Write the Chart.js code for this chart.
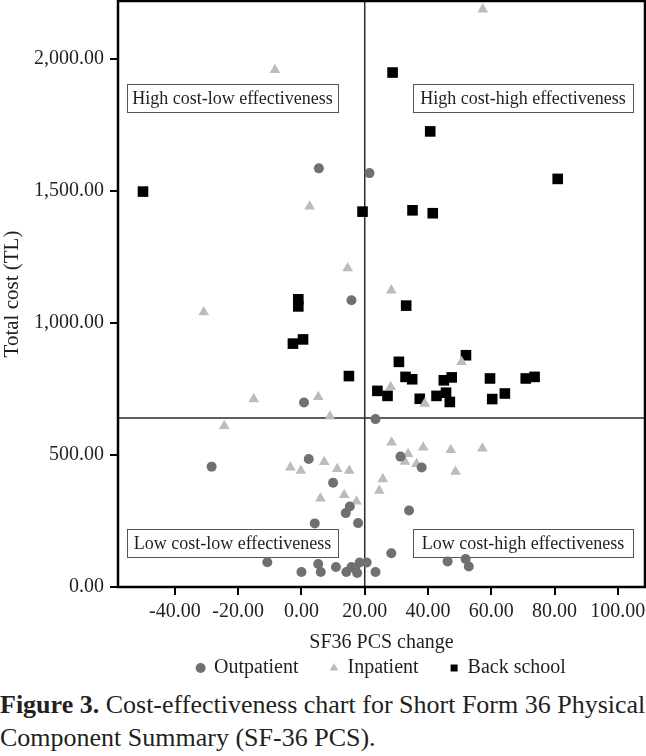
<!DOCTYPE html>
<html>
<head>
<meta charset="utf-8">
<script src="https://cdn.jsdelivr.net/npm/chart.js@4.4.0/dist/chart.umd.min.js"></script>
<style>
  html, body { margin: 0; padding: 0; background: #fff; }
  #wrap { width: 646px; }
  #ceChart { display: block; }
  .caption { font-family: "Liberation Serif", "DejaVu Serif", serif; font-size: 26px; line-height: 33px; color: #231f20; margin: 0; white-space: nowrap; }
</style>
</head>
<body>
<div id="wrap">
  <canvas id="ceChart" width="646" height="688"></canvas>
  <p class="caption"><b>Figure 3.</b> Cost-effectiveness chart for Short Form 36 Physical<br>Component Summary (SF-36 PCS).</p>
</div>
<script>
const SERIES_NAMES = ['Outpatient', 'Inpatient', 'Back school'];

const outpatientX = [5.5, 21.5, 15.8, 0.8, 23.4, -28.4, 2.3, 31.3, 38.0, 10.0, 15.3, 14.0, 4.2, 17.9, 34.0, 28.4, 46.2, 51.9, 52.9, -10.8, 0.0, 5.3, 6.1, 10.9, 14.2, 15.8, 17.6, 18.4, 20.6, 23.4, 17.0];
const outpatientY = [1586, 1568, 1086, 699, 636, 456, 485, 494, 453, 395, 305, 280, 241, 242, 290, 128, 97, 106, 78, 94, 57, 87, 57, 76, 57, 76, 53, 93, 93, 57, 72];

const inpatientX = [57.3, -8.4, 2.6, -30.9, 14.6, 28.4, 50.6, 28.2, 39.0, -15.1, 5.3, 9.0, -24.4, 28.5, 38.5, 47.2, 57.2, 33.7, 32.7, 36.4, 48.7, -3.5, -0.2, 7.2, 11.3, 15.1, 25.7, 24.6, 6.0, 13.5, 17.4];
const inpatientY = [2188, 1959, 1442, 1041, 1208, 1124, 853, 758, 695, 712, 720, 646, 610, 548, 529, 519, 525, 504, 475, 466, 437, 453, 441, 474, 447, 441, 409, 365, 336, 349, 324];

const backSchoolX = [-50.1, 28.8, 40.7, 81.0, 19.3, 35.1, 41.5, -1.0, -1.0, 33.1, -2.7, 0.5, 52.0, 30.8, 15.0, 32.9, 35.0, 45.0, 47.5, 59.6, 70.9, 73.7, 24.0, 27.2, 37.4, 42.7, 45.7, 46.9, 60.3, 64.3];
const backSchoolY = [1498, 1949, 1726, 1546, 1422, 1427, 1416, 1090, 1063, 1066, 922, 938, 878, 853, 799, 796, 787, 783, 794, 790, 790, 796, 743, 724, 713, 724, 736, 701, 712, 733];

const X_TICKS = [-40, -20, 0, 20, 40, 60, 80, 100];
const Y_TICKS = [0, 500, 1000, 1500, 2000];

// quadrant split lines (PCS change, cost)
const SPLIT_X = 20;
const SPLIT_Y = 640;
const QUADRANT_LABELS = ['High cost-low effectiveness', 'High cost-high effectiveness', 'Low cost-low effectiveness', 'Low cost-high effectiveness'];

const SERIF = '"Liberation Serif", "DejaVu Serif", serif';
const INK = '#231f20';

function toPoints(xs, ys) {
  return xs.map((x, i) => ({ x, y: ys[i] }));
}

function noEdgePadding(s) {
  s.paddingTop = 0; s.paddingBottom = 0;
  s.paddingLeft = 0; s.paddingRight = 0;
}

const quadrantPlugin = {
  id: 'quadrants',
  afterLayout(chart) {
    // centre the legend row under the plot box
    const lg = chart.legend;
    if (lg) { lg.left = chart.chartArea.left; lg.right = chart.chartArea.right; }
  },
  beforeDatasetsDraw(chart) {
    const { ctx, chartArea: a, scales: { x, y } } = chart;
    const qx = x.getPixelForValue(SPLIT_X);
    const qy = y.getPixelForValue(SPLIT_Y);
    ctx.save();
    ctx.strokeStyle = '#2b2b2b';
    ctx.lineWidth = 1.5;
    ctx.beginPath();
    ctx.moveTo(qx, a.top); ctx.lineTo(qx, a.bottom);
    ctx.moveTo(a.left, qy); ctx.lineTo(a.right, qy);
    ctx.stroke();

    ctx.font = '18px ' + SERIF;
    ctx.textAlign = 'center';
    ctx.textBaseline = 'middle';
    QUADRANT_LABELS.forEach((txt, i) => {
      const w = i % 2 === 0 ? 211 : 220;
      const left = i % 2 === 0 ? a.left + 9 : a.right - 12 - w;
      const top = i < 2 ? a.top + 83 : a.bottom - 58;
      ctx.fillStyle = '#fff';
      ctx.fillRect(left, top, w, 28);
      ctx.strokeStyle = '#555';
      ctx.lineWidth = 1;
      ctx.strokeRect(Math.round(left) + 0.5, Math.round(top) + 0.5, w, 28);
      ctx.fillStyle = INK;
      ctx.fillText(txt, left + w / 2, top + 15);
    });
    ctx.restore();
  },
  afterDatasetsDraw(chart) {
    const { ctx, chartArea: a } = chart;
    ctx.save();
    ctx.strokeStyle = '#000';
    ctx.lineWidth = 2.5;
    ctx.strokeRect(a.left, a.top, a.right - a.left, a.bottom - a.top);
    ctx.restore();
  }
};

const tickGrid = { drawOnChartArea: false, drawTicks: true, tickLength: 8, color: '#000', lineWidth: 2 };

new Chart(document.getElementById('ceChart'), {
  type: 'scatter',
  data: {
    datasets: [
      {
        label: SERIES_NAMES[0],
        data: toPoints(outpatientX, outpatientY),
        pointStyle: 'circle',
        pointRadius: 5,
        backgroundColor: '#707070',
        borderColor: '#707070',
        borderWidth: 0
      },
      {
        label: SERIES_NAMES[1],
        data: toPoints(inpatientX, inpatientY),
        pointStyle: 'triangle',
        pointRadius: 6.2,
        backgroundColor: '#bcbcbc',
        borderColor: '#bcbcbc',
        borderWidth: 0
      },
      {
        label: SERIES_NAMES[2],
        data: toPoints(backSchoolX, backSchoolY),
        pointStyle: 'rect',
        pointRadius: 7.5,
        backgroundColor: '#000',
        borderColor: '#000',
        borderWidth: 0
      }
    ]
  },
  options: {
    responsive: false,
    animation: false,
    devicePixelRatio: 1,
    layout: { autoPadding: false, padding: { top: 1, right: 1, left: 0, bottom: 0 } },
    plugins: {
      tooltip: { enabled: false },
      legend: {
        position: 'bottom',
        labels: {
          usePointStyle: true,
          boxWidth: 7,
          boxHeight: 7,
          padding: 32,
          color: INK,
          font: { family: SERIF, size: 20 }
        }
      }
    },
    scales: {
      x: {
        type: 'linear',
        min: -58,
        max: 108.6,
        afterBuildTicks: s => { s.ticks = X_TICKS.map(v => ({ value: v })); },
        afterFit: s => { s.height = 39; noEdgePadding(s); },
        grid: tickGrid,
        border: { display: false },
        ticks: {
          padding: 5,
          color: INK,
          font: { family: SERIF, size: 20 },
          maxRotation: 0,
          callback: v => v.toFixed(2)
        },
        title: {
          display: true,
          text: 'SF36 PCS change',
          color: INK,
          font: { family: SERIF, size: 20 },
          padding: { top: 0, bottom: -29 }
        }
      },
      y: {
        type: 'linear',
        min: 0,
        max: 2220,
        afterBuildTicks: s => { s.ticks = Y_TICKS.map(v => ({ value: v })); },
        afterFit: s => { s.width = 118; noEdgePadding(s); },
        grid: tickGrid,
        border: { display: false },
        ticks: {
          padding: 6,
          color: INK,
          font: { family: SERIF, size: 20 },
          callback: v => v.toLocaleString('en-US', { minimumFractionDigits: 2, maximumFractionDigits: 2 })
        },
        title: {
          display: true,
          text: 'Total cost (TL)',
          color: INK,
          font: { family: SERIF, size: 21 },
          padding: { top: 0, bottom: 0 }
        }
      }
    }
  },
  plugins: [quadrantPlugin]
});
</script>
</body>
</html>
